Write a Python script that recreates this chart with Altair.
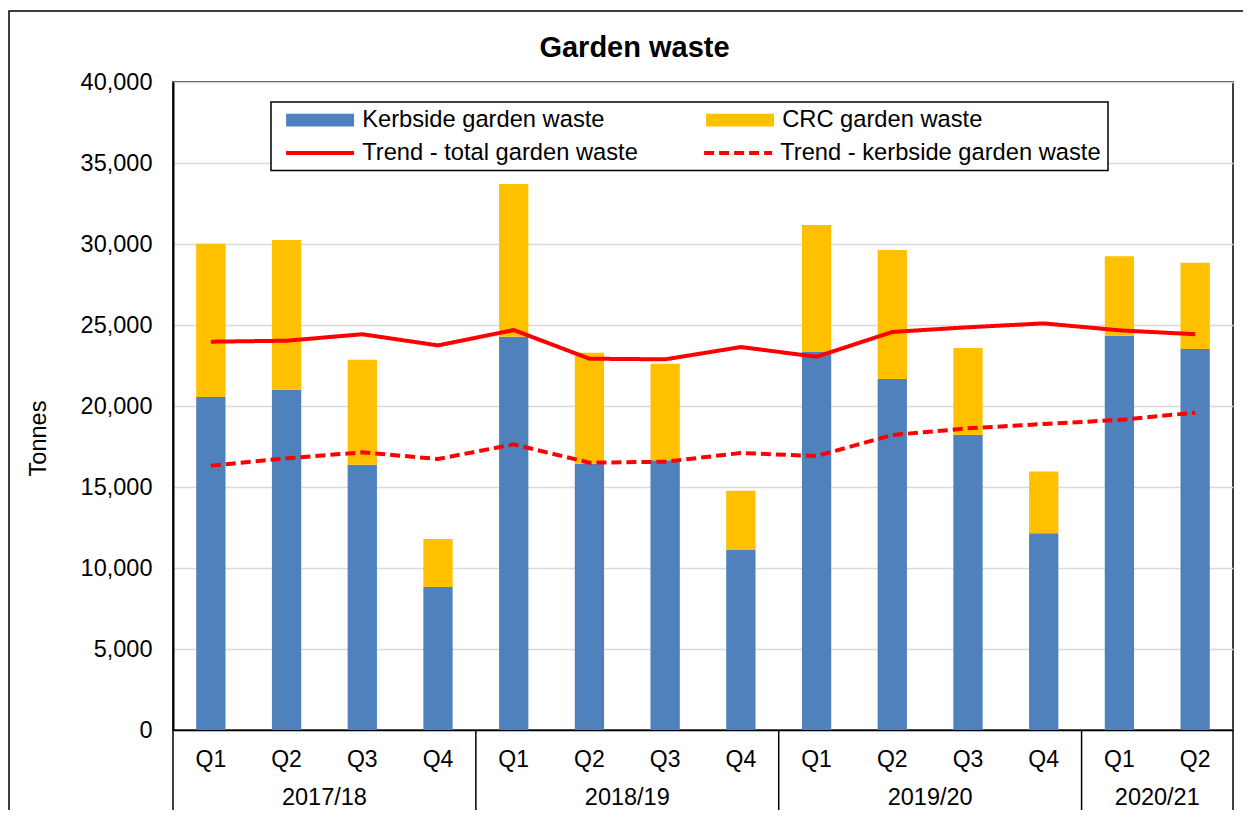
import altair as alt
import pandas as pd

TITLE = "Garden waste"
Y_TITLE = "Tonnes"

years = ["2017/18"] * 4 + ["2018/19"] * 4 + ["2019/20"] * 4 + ["2020/21"] * 2
quarters = ["Q1", "Q2", "Q3", "Q4"] * 3 + ["Q1", "Q2"]
kerbside = [20560, 21010, 16380, 8830, 24280, 16440, 16650, 11110, 23330, 21670, 18210, 12140, 24340, 23520]
crc = [9460, 9240, 6480, 2960, 9420, 6850, 5960, 3660, 7840, 7960, 5370, 3810, 4900, 5330]
trend_total = [23970, 24030, 24430, 23740, 24690, 22920, 22880, 23640, 23040, 24570, 24860, 25100, 24670, 24430]
trend_kerbside = [16320, 16770, 17140, 16730, 17630, 16500, 16560, 17100, 16910, 18210, 18620, 18890, 19140, 19590]
y_ticks = [0, 5000, 10000, 15000, 20000, 25000, 30000, 35000, 40000]

bar_names = ["Kerbside garden waste", "CRC garden waste"]
bar_colors = ["#4F81BD", "#FFC000"]
line_names = ["Trend - total garden waste", "Trend - kerbside garden waste"]
line_color = "#FF0000"
line_dashes = [[1, 0], [10, 5]]

W, H = 1060, 648
FONT = "Liberation Sans"
LEG_FS = 23.7

keys = [f"{y}|{q}" for y, q in zip(years, quarters)]

bars = pd.DataFrame(
    [{"key": k, "series": bar_names[0], "value": v, "ord": 0} for k, v in zip(keys, kerbside)]
    + [{"key": k, "series": bar_names[1], "value": v, "ord": 1} for k, v in zip(keys, crc)]
)
lines = pd.DataFrame(
    [{"key": k, "series": line_names[0], "value": v} for k, v in zip(keys, trend_total)]
    + [{"key": k, "series": line_names[1], "value": v} for k, v in zip(keys, trend_kerbside)]
)

year_order = []
for y in years:
    if y not in year_order:
        year_order.append(y)
year_rows, sep_rows = [], []
for y in year_order:
    ks = [k for k, yy in zip(keys, years) if yy == y]
    year_rows.append({"year": y, "anchor": ks[len(ks) // 2 - 1]})
    sep_rows.append({"anchor": ks[0]})
year_df = pd.DataFrame(year_rows)
sep_df = pd.DataFrame(sep_rows)
end_df = pd.DataFrame([{"anchor": keys[-1]}])

xscale = alt.Scale(domain=keys, paddingInner=0, paddingOuter=0)
yscale = alt.Scale(domain=[0, 40000], nice=False)

RECT_PATH = "M-1.237,-0.668H5.921V0.668H-1.237Z"
LINE_PATH = "M-1.237,0H5.921"

bar_legend = alt.Legend(
    title=None, orient="none", legendX=113, legendY=26, columns=2,
    columnPadding=101, padding=0, labelLimit=500,
    labelFont=FONT, labelFontSize=LEG_FS, labelColor="black", labelOffset=52.5,
    symbolType=RECT_PATH, symbolSize=361, symbolStrokeWidth=0, symbolOpacity=1,
)
line_legend = alt.Legend(
    title=None, orient="none", legendX=113, legendY=59, columns=2,
    columnPadding=58, padding=0, labelLimit=500,
    labelFont=FONT, labelFontSize=LEG_FS, labelColor="black", labelOffset=52.5,
    symbolType=LINE_PATH, symbolSize=361, symbolStrokeWidth=4,
    symbolStrokeColor=line_color, symbolFillColor="transparent", symbolOpacity=1,
)

x_enc = alt.X("key:N", scale=xscale, title=None,
              axis=alt.Axis(labelExpr="split(datum.value, '|')[1]", ticks=False, grid=False,
                            labelFont=FONT, labelFontSize=23, labelColor="black",
                            labelBaseline="middle", labelPadding=29, labelAngle=0,
                            domainColor="black", domainWidth=1.5))

outer = alt.Chart(pd.DataFrame({"a": [0]})).mark_rect(
    fillOpacity=0, stroke="black", strokeWidth=1.5
).encode(x=alt.value(-164), x2=alt.value(1085), y=alt.value(-71), y2=alt.value(H + 120))

bar_layer = alt.Chart(bars).mark_bar(width=alt.RelativeBandSize(0.387)).encode(
    x=x_enc,
    y=alt.Y("value:Q", scale=yscale, stack="zero",
            axis=alt.Axis(values=y_ticks, format=",.0f", title=Y_TITLE, ticks=False,
                          labelFont=FONT, labelFontSize=23.5, labelColor="black", labelPadding=21,
                          titleFont=FONT, titleFontSize=23.5, titleFontWeight="normal",
                          titleColor="black", titleX=-135, titleY=356, titleAngle=270,
                          titleAlign="center", titleBaseline="middle",
                          grid=True, gridColor="#D9D9D9", gridWidth=1.5,
                          domainColor="black", domainWidth=2)),
    color=alt.Color("series:N", scale=alt.Scale(domain=bar_names, range=bar_colors), legend=bar_legend),
    order=alt.Order("ord:Q"),
)

legend_box = alt.Chart(pd.DataFrame({"a": [0]})).mark_rect(
    fill="white", stroke="black", strokeWidth=1.5
).encode(x=alt.value(98), x2=alt.value(935), y=alt.value(20), y2=alt.value(88.5))

line_layer = alt.Chart(lines).mark_line(strokeWidth=4, strokeJoin="round", color=line_color).encode(
    x=alt.X("key:N", scale=xscale),
    y=alt.Y("value:Q", scale=yscale),
    strokeDash=alt.StrokeDash("series:N", scale=alt.Scale(domain=line_names, range=line_dashes),
                              legend=line_legend),
)

sep_layer = alt.Chart(sep_df).mark_rule(color="black", strokeWidth=1.5).encode(
    x=alt.X("anchor:N", scale=xscale, bandPosition=0),
    y=alt.value(H), y2=alt.value(H + 120),
)
end_layer = alt.Chart(end_df).mark_rule(color="black", strokeWidth=1.5).encode(
    x=alt.X("anchor:N", scale=xscale, bandPosition=1),
    y=alt.value(H), y2=alt.value(H + 120),
)
year_layer = alt.Chart(year_df).mark_text(
    font=FONT, fontSize=23.5, color="black", baseline="middle", align="center"
).encode(
    x=alt.X("anchor:N", scale=xscale, bandPosition=1),
    y=alt.value(H + 68),
    text="year:N",
)
title_layer = alt.Chart(pd.DataFrame({"t": [TITLE]})).mark_text(
    font=FONT, fontSize=29, fontWeight="bold", color="black", baseline="middle", align="center"
).encode(x=alt.value(461.5), y=alt.value(-34.5), text="t:N")

chart = alt.layer(
    outer, bar_layer, legend_box, line_layer, sep_layer, end_layer, year_layer, title_layer
).resolve_scale(color="independent", strokeDash="independent").properties(
    width=W, height=H,
    padding={"left": 165, "top": 74, "right": 10, "bottom": 80},
    autosize=alt.AutoSizeParams(type="none"),
).configure(font=FONT).configure_view(stroke="black", strokeWidth=1.5)

chart.save("out.html", embed_options={"renderer": "svg", "actions": False})
